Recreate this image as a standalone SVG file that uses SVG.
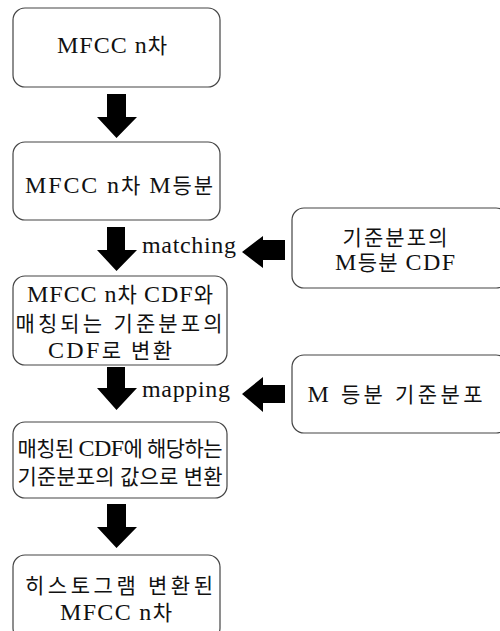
<svg xmlns="http://www.w3.org/2000/svg" width="500" height="631" viewBox="0 0 500 631">
<style>
.box{fill:#fff;stroke:#444;stroke-width:1.2}
text{font-family:"Liberation Serif","Noto Sans CJK KR",serif;font-size:21px;fill:#111;text-anchor:middle}
.l{font-size:24px}
.lbl{font-size:24px}
.arr{fill:#000}
</style>
<rect width="500" height="631" fill="#fff"/>
<g id="n1"><rect class="box" x="13" y="8" width="207" height="79" rx="12"/>
<text x="112" y="53" textLength="110" lengthAdjust="spacing"><tspan class="l">MFCC n</tspan>차</text></g>
<g id="n2"><rect class="box" x="13" y="142" width="207" height="78" rx="12"/>
<text x="119" y="193" textLength="188" lengthAdjust="spacing"><tspan class="l">MFCC n</tspan>차 <tspan class="l">M</tspan>등분</text></g>
<g id="n3"><rect class="box" x="13" y="276" width="214" height="89" rx="12"/>
<text x="120" y="302" textLength="186" lengthAdjust="spacing"><tspan class="l">MFCC n</tspan>차 <tspan class="l">CDF</tspan>와</text>
<text x="119" y="331" textLength="207" lengthAdjust="spacing">매칭되는 기준분포의</text>
<text x="110" y="358" textLength="124" lengthAdjust="spacing"><tspan class="l">CDF</tspan>로 변환</text></g>
<g id="n4"><rect class="box" x="13" y="422" width="214" height="76" rx="12"/>
<text x="120" y="456" textLength="205" lengthAdjust="spacing">매칭된 <tspan class="l">CDF</tspan>에 해당하는</text>
<text x="120" y="484" textLength="205" lengthAdjust="spacing">기준분포의 값으로 변환</text></g>
<g id="n5"><rect class="box" x="13" y="555" width="207" height="85" rx="12"/>
<text x="119" y="593" textLength="188" lengthAdjust="spacing">히스토그램 변환된</text>
<text x="116" y="620" textLength="112" lengthAdjust="spacing"><tspan class="l">MFCC n</tspan>차</text></g>
<g id="r1"><rect class="box" x="292" y="208" width="216" height="80" rx="12"/>
<text x="395" y="245" textLength="105" lengthAdjust="spacing">기준분포의</text>
<text x="395" y="270" textLength="120" lengthAdjust="spacing"><tspan class="l">M</tspan>등분 <tspan class="l">CDF</tspan></text></g>
<g id="r2"><rect class="box" x="292" y="355" width="216" height="78" rx="12"/>
<text x="395" y="402" textLength="175" lengthAdjust="spacing"><tspan class="l">M</tspan> 등분 기준분포</text></g>
<g id="connectors">
<polygon class="arr" points="107,94 126,94 126,117 137,117 116.5,138 97,117 107,117"/>
<polygon class="arr" points="107,227 125,227 125,250 137,250 116.5,271 97,250 107,250"/>
<polygon class="arr" points="107,367 125,367 125,388 137,388 116.5,410 97,388 107,388"/>
<polygon class="arr" points="107,504 126,504 126,527 137,527 116.5,548 97,527 107,527"/>
<polygon class="arr" points="285,240 263,240 263,236 242,252 263,268 263,260 285,260"/>
<polygon class="arr" points="285,385 263,385 263,377 242,394 263,412 263,403 285,403"/>
<text class="lbl" x="189" y="253" textLength="94" lengthAdjust="spacing">matching</text>
<text class="lbl" x="186" y="397" textLength="88" lengthAdjust="spacing">mapping</text>
</g>
</svg>
